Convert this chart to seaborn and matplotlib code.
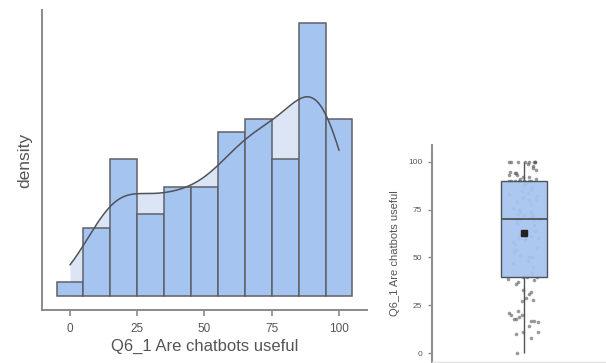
import numpy as np
import matplotlib
matplotlib.use("Agg")
import matplotlib.pyplot as plt
import seaborn as sns

# Responses to "Q6_1 Are chatbots useful" (0-100 scale), n = 106
q6_1 = [
    0,
    8, 10, 11, 11, 14,
    16, 17, 17, 18, 18, 19, 20, 20, 21, 22,
    27, 28, 29, 31, 32, 33,
    36, 37, 38, 39, 40, 40, 40, 42,
    45, 47, 48, 50, 50, 51, 53, 54,
    55, 57, 58, 59, 60, 60, 60, 61, 62, 63, 64, 64,
    67, 68, 70, 70, 70, 70, 70, 71, 72, 72, 73, 74, 74,
    75, 76, 78, 79, 80, 80, 81, 82, 83, 84,
    85, 86, 87, 88, 89, 90, 90, 90, 90, 90, 90, 90, 91, 91, 92, 92, 93, 93, 94, 94,
    95, 96, 97, 98, 99, 100, 100, 100, 100, 100, 100, 100, 100,
]
var_label = "Q6_1 Are chatbots useful"
x_ticks = [0, 25, 50, 75, 100]
box_ticks = [0, 25, 50, 75, 100]

values = np.array(q6_1, dtype=float)
bin_edges = np.arange(-5, 106, 10)

sns.set_theme(style="white")
plt.rcParams["font.family"] = ["Liberation Sans", "DejaVu Sans"]

BAR = "#a6c4f0"
KDE_FILL = "#dbe5f6"
EDGE = "#5e6166"
TEXT = "#555555"
SPINE = "#8a8a8a"

fig = plt.figure(figsize=(6.06, 3.63), dpi=100)

# ---- histogram + density ----
ax = fig.add_axes([0.0693, 0.146, 0.5363, 0.8265])
sns.kdeplot(x=values, cut=0, bw_adjust=0.9, fill=True, color=KDE_FILL,
            alpha=1, linewidth=0, ax=ax)
sns.histplot(x=values, bins=bin_edges, stat="density", color=BAR, alpha=1,
             edgecolor=EDGE, linewidth=1.1, ax=ax)
sns.kdeplot(x=values, cut=0, bw_adjust=0.9, color="#4f5257", linewidth=1.1, ax=ax)

counts, _ = np.histogram(values, bins=bin_edges)
dmax = counts.max() / (len(values) * 10)
ax.set_xlim(-10.4, 110.4)
ax.set_ylim(-dmax * 14 / 273, dmax * 286 / 273)
ax.set_xticks(x_ticks)
ax.set_xticklabels([str(t) for t in x_ticks])
ax.set_yticks([])
ax.set_xlabel(var_label, fontsize=12, color=TEXT, labelpad=3)
ax.set_ylabel("density", fontsize=12.5, color=TEXT, labelpad=7)
ax.tick_params(axis="x", bottom=True, length=4, width=1.2, color=SPINE,
               labelsize=8.5, labelcolor=TEXT, pad=5)
for s in ["top", "right"]:
    ax.spines[s].set_visible(False)
for s in ["left", "bottom"]:
    ax.spines[s].set_color(SPINE)
    ax.spines[s].set_linewidth(1.4)

# ---- box plot with jittered points ----
bx = fig.add_axes([0.7129, 0.0028, 0.2871, 0.5978])
sns.stripplot(y=values, jitter=0.17, size=2.6, color="#555555", alpha=0.6,
              linewidth=0, zorder=1, ax=bx)
sns.boxplot(y=values, width=0.5, showcaps=False, showfliers=False,
            showmeans=True, whis=1.5, linewidth=1.0,
            boxprops=dict(facecolor=(0.65, 0.77, 0.94, 0.93), edgecolor="#4f5257", zorder=2),
            whiskerprops=dict(color="#4f5257"),
            medianprops=dict(color="#4f5257", linewidth=1.3),
            meanprops=dict(marker="s", markerfacecolor="#222222",
                           markeredgecolor="#222222", markersize=4.2),
            ax=bx)
bx.set_xlim(-1.0, 0.891)
bx.set_ylim(-4.7, 108.9)
bx.set_yticks(box_ticks)
bx.set_yticklabels([str(t) for t in box_ticks])
bx.set_xticks([])
bx.set_xlabel("")
bx.set_ylabel(var_label, fontsize=8, color=TEXT, labelpad=6)
bx.tick_params(axis="y", left=True, length=3, width=1, color=SPINE,
               labelsize=6, labelcolor=TEXT, pad=4)
bx.set_facecolor("none")
for s in ["top", "right"]:
    bx.spines[s].set_visible(False)
bx.spines["left"].set_color(SPINE)
bx.spines["left"].set_linewidth(1.4)
bx.spines["bottom"].set_color("#e2e2e2")
bx.spines["bottom"].set_linewidth(1)

fig.savefig("out.png", dpi=100)
